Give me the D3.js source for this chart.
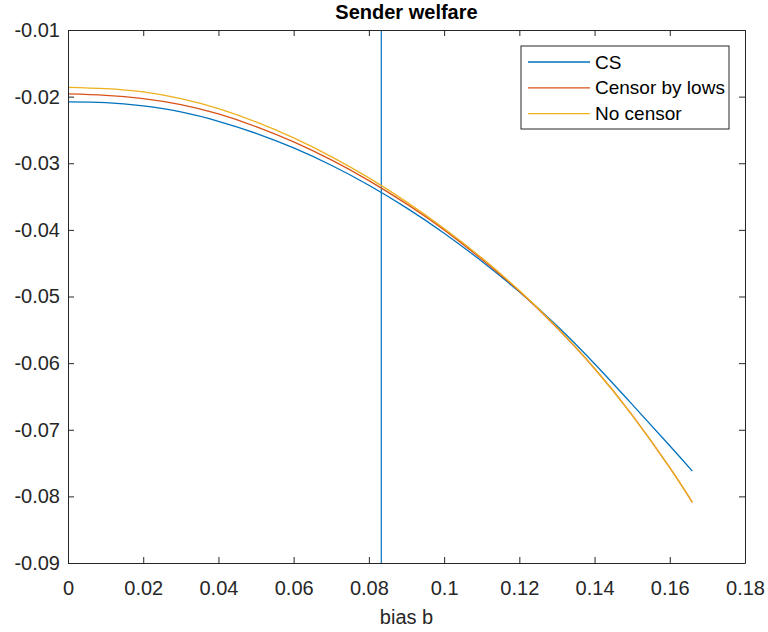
<!DOCTYPE html>
<html>
<head>
<meta charset="utf-8">
<script src="https://cdn.jsdelivr.net/npm/d3@7"></script>
<style>
  body { margin: 0; background: #fff; }
  svg { display: block; font-family: "Liberation Sans", Arial, sans-serif; }
</style>
</head>
<body>
<div id="chart"></div>
<script>
// Sender welfare vs bias b

const width = 768;
const height = 632;
const margin = { top: 30, right: 23, bottom: 69, left: 68 };

// ---------- data ----------
const biasValues = [0, 0.01, 0.02, 0.03, 0.04, 0.05, 0.06, 0.07, 0.08, 0.09, 0.10,
    0.11, 0.12, 0.13, 0.14, 0.15, 0.16, 0.166];
const csValues = [-0.0208, -0.0209, -0.0214, -0.0223, -0.0237, -0.0255, -0.0277, -0.0303,
    -0.0333, -0.0367, -0.0405, -0.0447, -0.0493, -0.0544, -0.0601, -0.0662, -0.0724, -0.0762];
const censorLowsValues = [-0.0196, -0.0198, -0.0203, -0.0212, -0.0226, -0.0245, -0.0268, -0.0295,
    -0.0326, -0.0361, -0.0400, -0.0444, -0.0492, -0.0547, -0.0608, -0.0678, -0.0757, -0.0809];
const noCensorValues = [-0.0186, -0.0188, -0.0193, -0.0203, -0.0218, -0.0238, -0.0262, -0.0290,
    -0.0322, -0.0358, -0.0398, -0.0442, -0.0491, -0.0546, -0.0608, -0.0678, -0.0757, -0.0809];
const seriesNames = ["CS", "Censor by lows", "No censor"];
const seriesColors = ["#0072BD", "#D95319", "#EDB120"];
const cutoffBias = 0.0833;

const xTicks = [0, 0.02, 0.04, 0.06, 0.08, 0.1, 0.12, 0.14, 0.16, 0.18];
const xTickLabels = ["0", "0.02", "0.04", "0.06", "0.08", "0.1", "0.12", "0.14", "0.16", "0.18"];
const yTicks = [-0.01, -0.02, -0.03, -0.04, -0.05, -0.06, -0.07, -0.08, -0.09];
const yTickLabels = ["-0.01", "-0.02", "-0.03", "-0.04", "-0.05", "-0.06", "-0.07", "-0.08", "-0.09"];

const axisColor = "#262626";
const fontSize = 20;
const tickLen = 6;

// ---------- svg + scales ----------
const svg = d3.select("#chart").append("svg")
    .attr("width", width)
    .attr("height", height);

const x = d3.scaleLinear().domain([0, 0.18]).range([margin.left, width - margin.right]);
const y = d3.scaleLinear().domain([-0.09, -0.01]).range([height - margin.bottom, margin.top]);

svg.append("clipPath").attr("id", "plot-clip")
    .append("rect")
    .attr("x", x(0)).attr("y", y(-0.01))
    .attr("width", x(0.18) - x(0)).attr("height", y(-0.09) - y(-0.01));

// ---------- lines ----------
const allSeries = [csValues, censorLowsValues, noCensorValues].map((vals, i) => ({
    name: seriesNames[i],
    color: seriesColors[i],
    values: biasValues.map((b, j) => ({ b: b, v: vals[j] }))
}));

const line = d3.line()
    .x(d => x(d.b))
    .y(d => y(d.v))
    .curve(d3.curveNatural);

const plot = svg.append("g").attr("clip-path", "url(#plot-clip)");

plot.append("line")
    .attr("x1", x(cutoffBias)).attr("x2", x(cutoffBias))
    .attr("y1", y(-0.01)).attr("y2", y(-0.09))
    .attr("stroke", seriesColors[0])
    .attr("stroke-width", 1.2);

plot.selectAll(".series")
    .data(allSeries)
    .enter()
    .append("path")
    .attr("class", "series")
    .attr("fill", "none")
    .attr("stroke", d => d.color)
    .attr("stroke-width", 1.3)
    .attr("d", d => line(d.values));

// ---------- axes (box with inward ticks) ----------
function styleAxis(g) {
    g.attr("font-family", null);
    g.select(".domain").attr("stroke", axisColor).attr("stroke-width", 1);
    g.selectAll(".tick line").attr("stroke", axisColor);
    g.selectAll(".tick text").attr("fill", axisColor).attr("font-size", fontSize);
}

svg.append("g")
    .attr("transform", `translate(0, ${y(-0.09)})`)
    .call(d3.axisBottom(x).tickValues(xTicks)
        .tickFormat((d, i) => xTickLabels[i])
        .tickSizeInner(-tickLen).tickSizeOuter(0).tickPadding(18))
    .call(styleAxis);

svg.append("g")
    .attr("transform", `translate(0, ${y(-0.01)})`)
    .call(d3.axisTop(x).tickValues(xTicks).tickFormat("")
        .tickSizeInner(-tickLen).tickSizeOuter(0))
    .call(styleAxis);

svg.append("g")
    .attr("transform", `translate(${x(0)}, 0)`)
    .call(d3.axisLeft(y).tickValues(yTicks)
        .tickFormat((d, i) => yTickLabels[i])
        .tickSizeInner(-tickLen).tickSizeOuter(0).tickPadding(8))
    .call(styleAxis);

svg.append("g")
    .attr("transform", `translate(${x(0.18)}, 0)`)
    .call(d3.axisRight(y).tickValues(yTicks).tickFormat("")
        .tickSizeInner(-tickLen).tickSizeOuter(0))
    .call(styleAxis);

// ---------- title and labels ----------
svg.append("text")
    .attr("x", (x(0) + x(0.18)) / 2)
    .attr("y", 19)
    .attr("text-anchor", "middle")
    .attr("font-size", 20)
    .attr("font-weight", "bold")
    .attr("fill", "#000")
    .text("Sender welfare");

svg.append("text")
    .attr("x", (x(0) + x(0.18)) / 2)
    .attr("y", 624)
    .attr("text-anchor", "middle")
    .attr("font-size", fontSize)
    .attr("fill", axisColor)
    .text("bias b");

// ---------- legend ----------
const legend = svg.append("g").attr("transform", "translate(521, 46)");

legend.append("rect")
    .attr("width", 208)
    .attr("height", 83)
    .attr("fill", "#fff")
    .attr("stroke", axisColor)
    .attr("stroke-width", 1);

const legendItems = legend.selectAll(".legend-item")
    .data(allSeries)
    .enter()
    .append("g")
    .attr("class", "legend-item")
    .attr("transform", (d, i) => `translate(0, ${16 + i * 25.8})`);

legendItems.append("line")
    .attr("x1", 7).attr("x2", 69)
    .attr("stroke", d => d.color)
    .attr("stroke-width", 1.3);

legendItems.append("text")
    .attr("x", 74)
    .attr("dy", "0.35em")
    .attr("font-size", 19)
    .attr("fill", "#000")
    .text(d => d.name);
</script>
</body>
</html>
